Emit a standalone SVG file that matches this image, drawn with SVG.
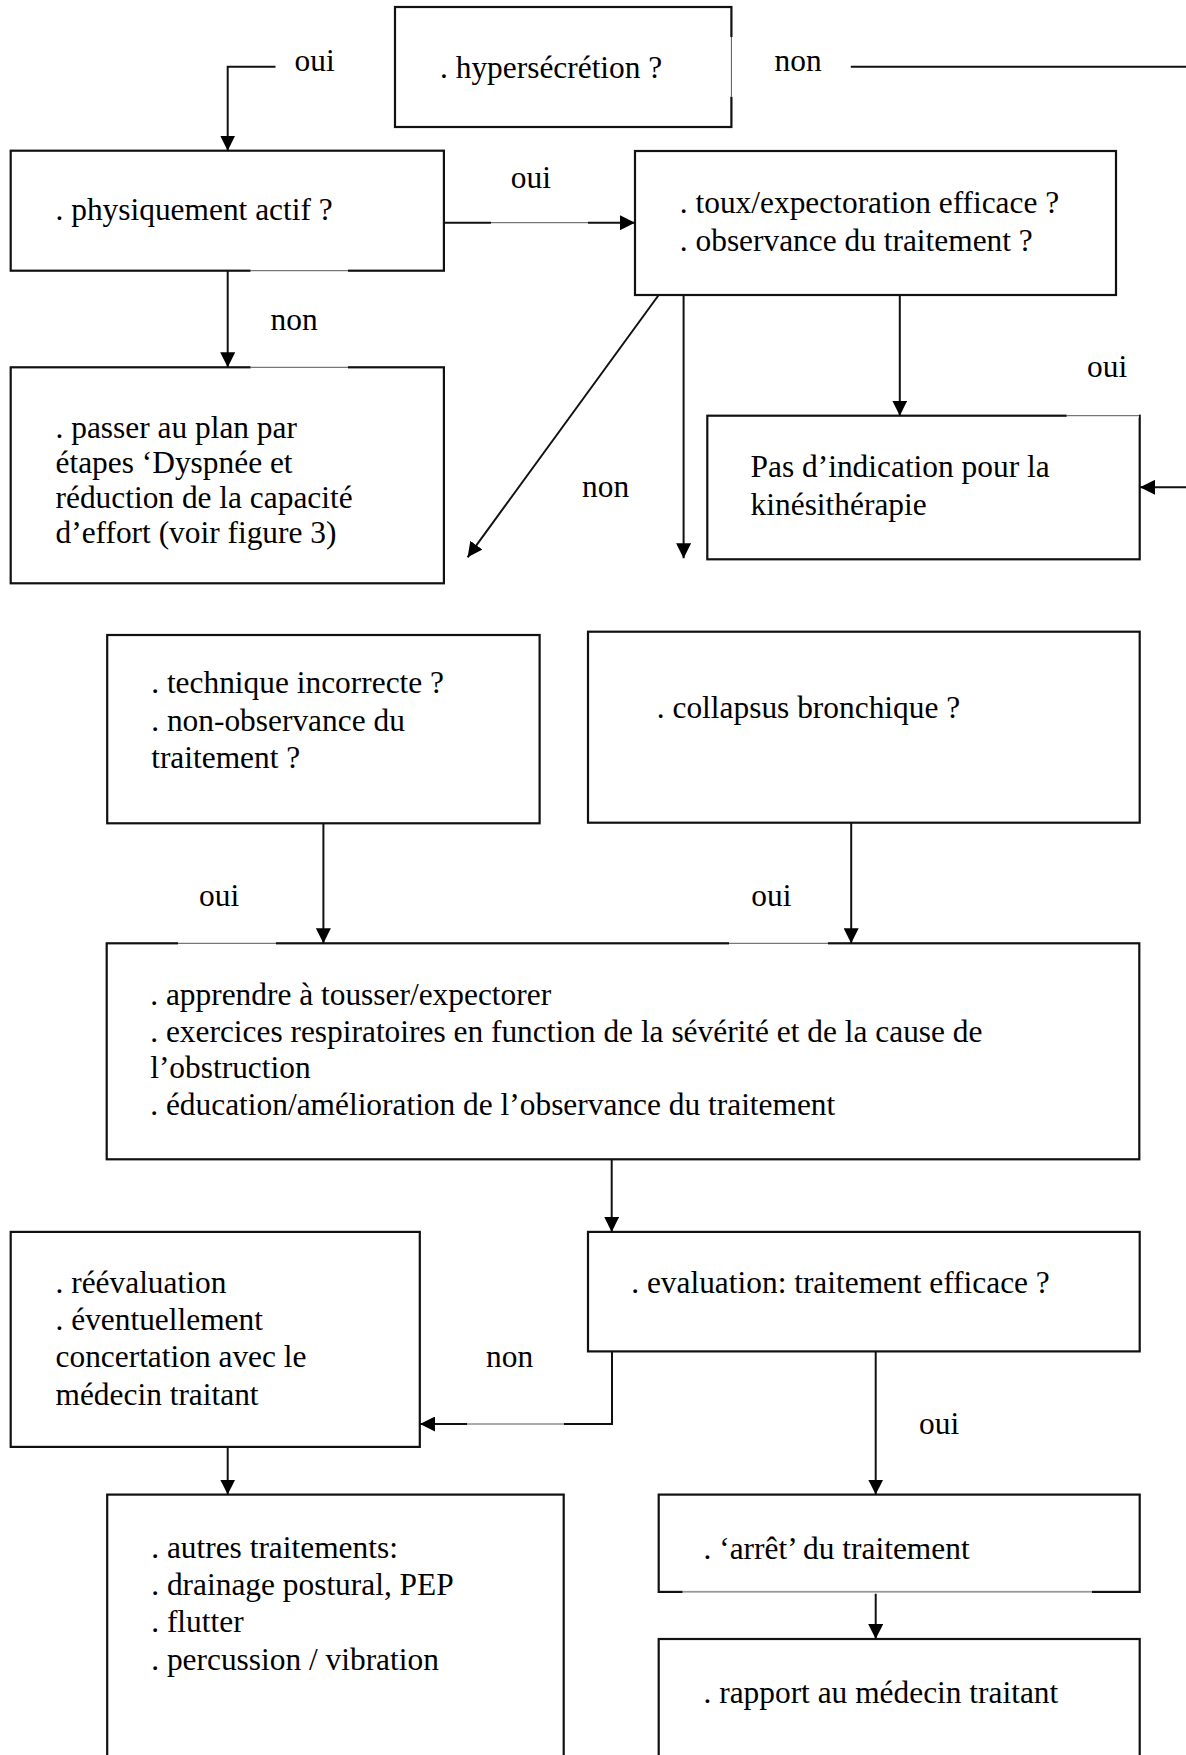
<svg xmlns="http://www.w3.org/2000/svg" width="1186" height="1755" viewBox="0 0 1186 1755">
<style>
  .box { fill: #fff; stroke: #111; stroke-width: 2.2; }
  .t { font-family: "Liberation Serif", "Times New Roman", serif; font-size: 31.4px; fill: #000; }
  .conn { fill: none; stroke: #111; stroke-width: 2; }
  .fadeBg { stroke: #fff; stroke-width: 3.5; fill: none; }
  .fade { stroke: #555; stroke-width: 1; fill: none; }
</style>
<defs>
  <marker id="ah" viewBox="0 0 15 15" refX="15" refY="7.5" markerWidth="15" markerHeight="15" markerUnits="userSpaceOnUse" orient="auto">
    <path d="M0,0 L15,7.5 L0,15 z" fill="#000"/>
  </marker>
</defs>
<rect x="0" y="0" width="1186" height="1755" fill="#fff"/>

<g id="hypersecretion">
  <rect class="box" x="395" y="7" width="336.4" height="120"/>
  <text class="t" x="440" y="78.3">. hypersécrétion ?</text>
</g>
<g id="physiquement-actif">
  <rect class="box" x="10.7" y="150.7" width="433.2" height="120"/>
  <text class="t" x="55.5" y="220">. physiquement actif ?</text>
</g>
<g id="toux-expectoration">
  <rect class="box" x="635" y="151" width="481" height="144"/>
  <text class="t" x="679.8" y="213.3">. toux/expectoration efficace ?</text>
  <text class="t" x="679.8" y="250.7">. observance du traitement ?</text>
</g>
<g id="passer-plan">
  <rect class="box" x="10.7" y="367.3" width="433.2" height="216"/>
  <text class="t" x="55.5" y="438.3">. passer au plan par</text>
  <text class="t" x="55.5" y="473.3">étapes ‘Dyspnée et</text>
  <text class="t" x="55.5" y="507.5">réduction de la capacité</text>
  <text class="t" x="55.5" y="542.5">d’effort (voir figure 3)</text>
</g>
<g id="pas-indication">
  <rect class="box" x="707.3" y="415.7" width="432.4" height="143.6"/>
  <text class="t" x="750.6" y="476.7">Pas d’indication pour la</text>
  <text class="t" x="750.6" y="515">kinésithérapie</text>
</g>
<g id="technique-incorrecte">
  <rect class="box" x="107.2" y="635" width="432.4" height="188.3"/>
  <text class="t" x="151.2" y="693.3">. technique incorrecte ?</text>
  <text class="t" x="151.2" y="730.5">. non-observance du</text>
  <text class="t" x="151.2" y="768">traitement ?</text>
</g>
<g id="collapsus">
  <rect class="box" x="588" y="631.7" width="551.7" height="191"/>
  <text class="t" x="656.8" y="718.3">. collapsus bronchique ?</text>
</g>
<g id="apprendre">
  <rect class="box" x="106.7" y="943.3" width="1032.6" height="216"/>
  <text class="t" x="150.2" y="1005">. apprendre à tousser/expectorer</text>
  <text class="t" x="150.2" y="1041.7">. exercices respiratoires en function de la sévérité et de la cause de</text>
  <text class="t" x="150.2" y="1078.3">l’obstruction</text>
  <text class="t" x="150.2" y="1115">. éducation/amélioration de l’observance du traitement</text>
</g>
<g id="reevaluation">
  <rect class="box" x="10.7" y="1231.9" width="409.1" height="215"/>
  <text class="t" x="55.5" y="1293.4">. réévaluation</text>
  <text class="t" x="55.5" y="1329.9">. éventuellement</text>
  <text class="t" x="55.5" y="1367.4">concertation avec le</text>
  <text class="t" x="55.5" y="1405.3">médecin traitant</text>
</g>
<g id="evaluation">
  <rect class="box" x="588" y="1231.9" width="551.7" height="119.5"/>
  <text class="t" x="631.2" y="1293.4">. evaluation: traitement efficace ?</text>
</g>
<g id="autres-traitements">
  <rect class="box" x="107.2" y="1494.6" width="456.5" height="290"/>
  <text class="t" x="151.2" y="1557.8">. autres traitements:</text>
  <text class="t" x="151.2" y="1594.6">. drainage postural, PEP</text>
  <text class="t" x="151.2" y="1632.1">. flutter</text>
  <text class="t" x="151.2" y="1669.7">. percussion / vibration</text>
</g>
<g id="arret">
  <rect class="box" x="658.7" y="1494.6" width="481" height="97.3"/>
  <text class="t" x="703.5" y="1559.3">. ‘arrêt’ du traitement</text>
</g>
<g id="rapport">
  <rect class="box" x="658.7" y="1639" width="481" height="150"/>
  <text class="t" x="703.5" y="1702.8">. rapport au médecin traitant</text>
</g>

<g id="connectors">
  <path class="conn" d="M275.5,66.7 H227.7 V150.7" marker-end="url(#ah)"/>
  <path class="conn" d="M850.8,66.7 H1194 V487.3 H1140" marker-end="url(#ah)"/>
  <path class="conn" d="M444,222.7 H635" marker-end="url(#ah)"/>
  <path class="conn" d="M227.7,270.7 V367.3" marker-end="url(#ah)"/>
  <path class="conn" d="M658.7,295 L467.6,557.3" marker-end="url(#ah)"/>
  <path class="conn" d="M683.6,295 V558.3" marker-end="url(#ah)"/>
  <path class="conn" d="M899.8,295 V415.7" marker-end="url(#ah)"/>
  <path class="conn" d="M323.4,823.3 V943.3" marker-end="url(#ah)"/>
  <path class="conn" d="M851.2,822.7 V943.3" marker-end="url(#ah)"/>
  <path class="conn" d="M611.7,1159.3 V1231.9" marker-end="url(#ah)"/>
  <path class="conn" d="M612,1351.4 V1424 H420" marker-end="url(#ah)"/>
  <path class="conn" d="M227.7,1446.9 V1494.6" marker-end="url(#ah)"/>
  <path class="conn" d="M875.7,1351.4 V1494.6" marker-end="url(#ah)"/>
  <path class="conn" d="M875.7,1591.9 V1639" marker-end="url(#ah)"/>

  <text class="t" x="294.6" y="70.7">oui</text>
  <text class="t" x="774.6" y="70.7">non</text>
  <text class="t" x="510.8" y="188.3">oui</text>
  <text class="t" x="270.6" y="330">non</text>
  <text class="t" x="1087" y="377">oui</text>
  <text class="t" x="582" y="496.7">non</text>
  <text class="t" x="199" y="906">oui</text>
  <text class="t" x="751.3" y="906">oui</text>
  <text class="t" x="486" y="1366.7">non</text>
  <text class="t" x="919" y="1434.3">oui</text>
</g>

<g id="faded-segments">
  <path class="fadeBg" d="M731.4,37 V96.7 M250.6,270.7 H348 M250.6,367.3 H348 M491,222.7 H588 M1066.7,415.7 H1139 M178,943.3 H276 M729,943.3 H828 M467,1424 H564 M682.6,1591.9 H1092"/>
  <path class="fade" d="M731.4,37 V96.7 M250.6,270.7 H348 M250.6,367.3 H348 M491,222.7 H588 M1066.7,415.7 H1139 M178,943.3 H276 M729,943.3 H828 M467,1424 H564 M682.6,1591.9 H1092"/>
</g>
</svg>
